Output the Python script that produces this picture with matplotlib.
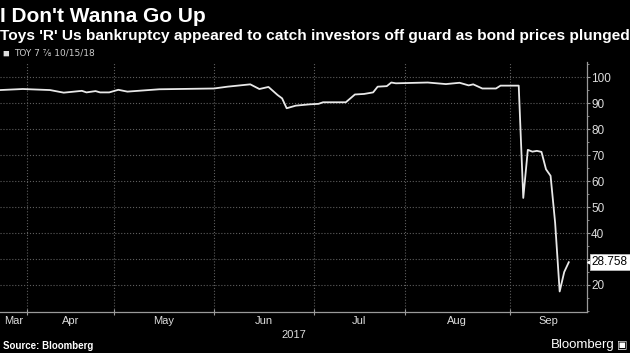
import pandas as pd
import matplotlib.pyplot as plt
from matplotlib.ticker import FixedLocator, MultipleLocator

plt.rcParams['font.family'] = ['Liberation Sans', 'DejaVu Sans']

title = "I Don't Wanna Go Up"
subtitle = "Toys 'R' Us bankruptcy appeared to catch investors off guard as bond prices plunged"
series_name = 'TOY 7 \u215e 10/15/18'

# bond price (trading days only)
dates = ['2017-03-24', '2017-03-31', '2017-04-10', '2017-04-13', '2017-04-20',
         '2017-04-21', '2017-04-25', '2017-04-26', '2017-04-28', '2017-05-02',
         '2017-05-04', '2017-05-15', '2017-06-01', '2017-06-06', '2017-06-13',
         '2017-06-15', '2017-06-19', '2017-06-21', '2017-06-22', '2017-06-23',
         '2017-06-27', '2017-06-30', '2017-07-05', '2017-07-06', '2017-07-13',
         '2017-07-17', '2017-07-19', '2017-07-21', '2017-07-24', '2017-07-26',
         '2017-07-27', '2017-07-28', '2017-08-08', '2017-08-14', '2017-08-17',
         '2017-08-21', '2017-08-22', '2017-08-24', '2017-08-29', '2017-08-30',
         '2017-09-06', '2017-09-07', '2017-09-08', '2017-09-11', '2017-09-12',
         '2017-09-13', '2017-09-14', '2017-09-15', '2017-09-18', '2017-09-19',
         '2017-09-20', '2017-09-21']
prices = [95.0, 95.4, 95.0, 94.0, 94.7,
          94.1, 94.6, 94.1, 94.1, 95.1,
          94.4, 95.3, 95.6, 96.3, 97.2,
          95.4, 96.2, 93.1, 91.8, 88.0,
          89.0, 89.5, 89.7, 90.3, 90.3,
          93.3, 93.5, 94.1, 96.3, 96.5,
          97.9, 97.6, 97.9, 97.3, 97.8,
          96.8, 97.2, 95.6, 95.6, 96.7,
          96.7, 53.5, 72.0, 71.3, 71.6,
          71.2, 64.5, 62.0, 44.0, 17.5,
          25.0, 28.758]
last_value = '28.758'

holidays = ['2017-04-14', '2017-05-29', '2017-07-04', '2017-09-04']
month_names = ['Mar', 'Apr', 'May', 'Jun', 'Jul', 'Aug', 'Sep']
y_ticks = [20, 30, 40, 50, 60, 70, 80, 90, 100]

# trading day axis (like the terminal chart)
cal = pd.bdate_range('2017-03-01', '2017-09-29', freq='C', holidays=holidays)
pos = {d: i for i, d in enumerate(cal)}
x = [pos[pd.Timestamp(d)] for d in dates]
x_left = pos[pd.Timestamp('2017-03-24')]
x_right = pos[pd.Timestamp('2017-09-27')]

month_start = []
for m in range(3, 10):
    first = cal[cal.month == m][0]
    month_start.append(pos[first])
bounds = month_start + [len(cal)]
label_pos = []
for k in range(len(month_names)):
    a = max(bounds[k], x_left)
    b = min(bounds[k + 1], x_right)
    label_pos.append((a + b) / 2)

fig = plt.figure(figsize=(6.3, 3.53), dpi=100, facecolor='black')
ax = fig.add_axes([0.0, 0.1161, 0.9317, 0.7083])
ax.set_facecolor('black')

ax.plot(x, prices, color='#e8e8e8', linewidth=1.3)

ax.set_xlim(x_left, x_right)
ax.set_ylim(9.6, 105.8)

# x axis: month boundaries as ticks, names in between
ax.xaxis.set_major_locator(FixedLocator(month_start[1:]))
ax.set_xticklabels([])
ax.xaxis.set_minor_locator(FixedLocator(label_pos))
ax.set_xticklabels(month_names, minor=True)
ax.tick_params(axis='x', which='major', direction='inout', length=4, color='#9a9a9a', width=0.8)
ax.tick_params(axis='x', which='minor', length=0, pad=3, labelsize=8, labelcolor='#dddddd')

# y axis on the right
ax.yaxis.tick_right()
ax.set_yticks(y_ticks)
ax.yaxis.set_minor_locator(MultipleLocator(5))
ax.tick_params(axis='y', which='major', direction='out', length=2.5, color='#9a9a9a',
               width=0.8, labelsize=8.5, labelcolor='#dddddd', pad=0.5)
ax.tick_params(axis='y', which='minor', direction='out', length=1.5, color='#9a9a9a', width=0.6)

ax.grid(which='major', color='#5e5e5e', linestyle=':', linewidth=0.8)
for s in ['top', 'left']:
    ax.spines[s].set_visible(False)
for s in ['bottom', 'right']:
    ax.spines[s].set_color('#9a9a9a')
    ax.spines[s].set_linewidth(0.9)

ax.text(0.5, -0.07, '2017', transform=ax.transAxes, ha='center', va='top',
        fontsize=8, color='#dddddd')

# last value tag
ax.plot([1.006], [prices[-1]], marker='<', markersize=5, color='white',
        transform=ax.get_yaxis_transform(), clip_on=False, zorder=5)
ax.annotate(last_value, xy=(1, prices[-1]), xycoords=('axes fraction', 'data'),
            xytext=(3.5, 0), textcoords='offset points', ha='left', va='center',
            fontsize=8.5, color='black', zorder=6,
            bbox=dict(boxstyle='square,pad=0.15', fc='white', ec='#bbbbbb', lw=0.6))

fig.text(0.0, 1 - 22 / 353, title, fontsize=15, fontweight='bold', color='white')
fig.text(0.0, 1 - 40 / 353, subtitle, fontsize=11.15, fontweight='bold', color='white')
fig.text(0.004, 1 - 56.5 / 353, '\u25a0', fontsize=8, color='#dddddd')
fig.text(0.022, 1 - 56 / 353, series_name, fontsize=6.5, color='#cccccc',
         family=['DejaVu Sans'])
fig.text(0.005, 1 - 349 / 353, 'Source: Bloomberg', fontsize=7, fontweight='bold', color='white')
fig.text(0.975, 1 - 348 / 353, 'Bloomberg', fontsize=9.5, color='white', ha='right')
fig.text(0.996, 1 - 348 / 353, '\u25a3', fontsize=8, color='white', ha='right')

fig.savefig('out.png', dpi=100, facecolor='black')
